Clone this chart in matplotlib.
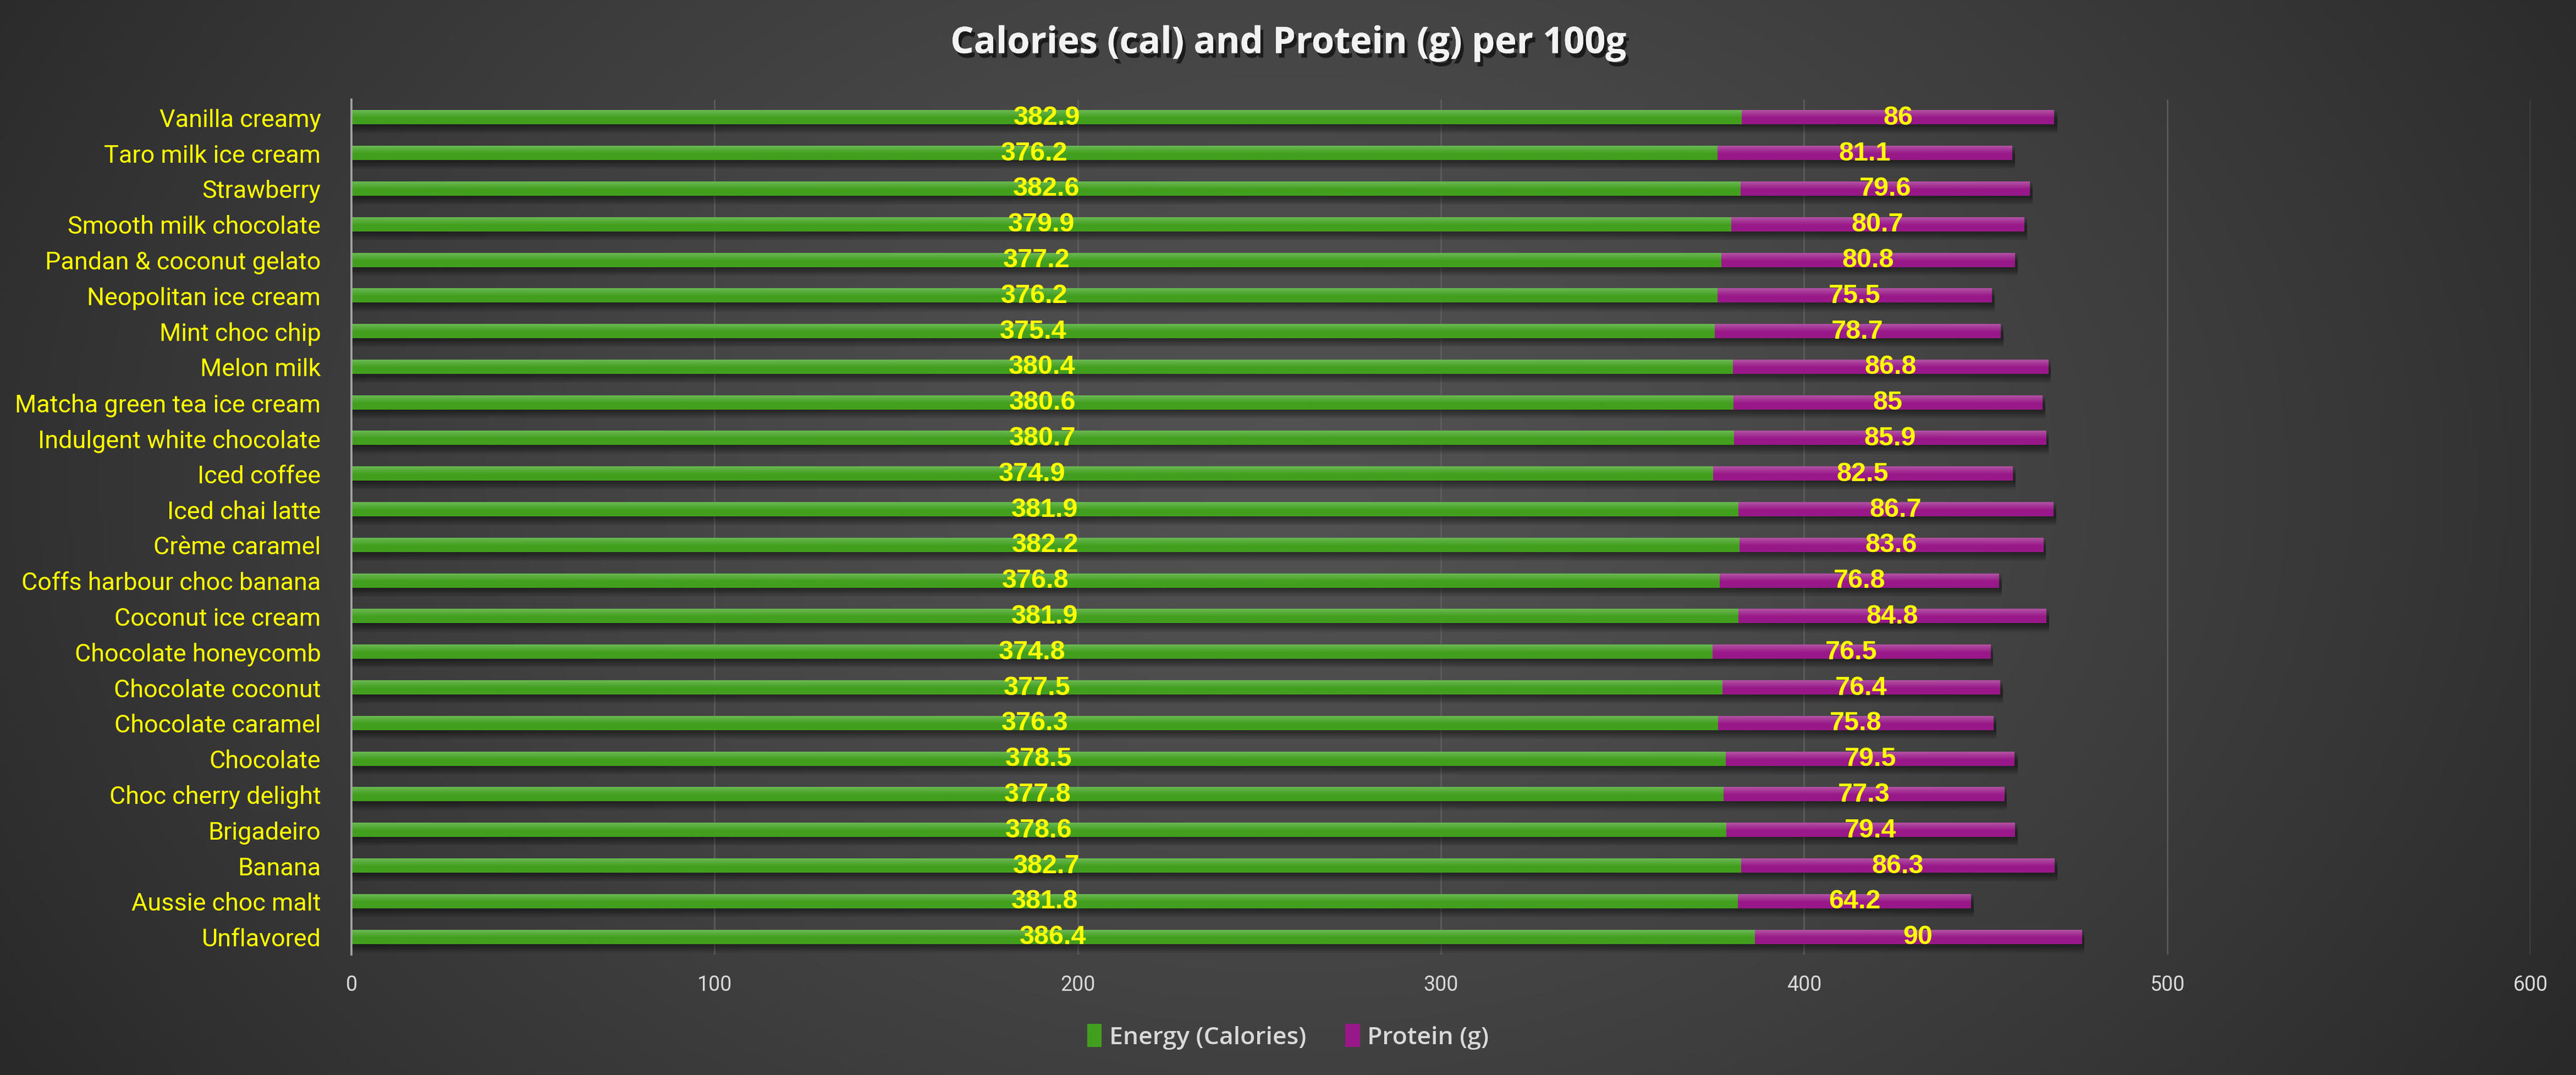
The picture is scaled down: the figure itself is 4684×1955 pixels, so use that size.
import numpy as np
import matplotlib
matplotlib.use("Agg")
import matplotlib.pyplot as plt
import matplotlib.patheffects as pe
from matplotlib.patches import Patch

categories = ["Vanilla creamy", "Taro milk ice cream", "Strawberry", "Smooth milk chocolate",
              "Pandan & coconut gelato", "Neopolitan ice cream", "Mint choc chip", "Melon milk",
              "Matcha green tea ice cream", "Indulgent white chocolate", "Iced coffee",
              "Iced chai latte", "Crème caramel", "Coffs harbour choc banana", "Coconut ice cream",
              "Chocolate honeycomb", "Chocolate coconut", "Chocolate caramel", "Chocolate",
              "Choc cherry delight", "Brigadeiro", "Banana", "Aussie choc malt", "Unflavored"]
energy = [382.9, 376.2, 382.6, 379.9, 377.2, 376.2, 375.4, 380.4, 380.6, 380.7, 374.9, 381.9,
          382.2, 376.8, 381.9, 374.8, 377.5, 376.3, 378.5, 377.8, 378.6, 382.7, 381.8, 386.4]
protein = [86, 81.1, 79.6, 80.7, 80.8, 75.5, 78.7, 86.8, 85, 85.9, 82.5, 86.7,
           83.6, 76.8, 84.8, 76.5, 76.4, 75.8, 79.5, 77.3, 79.4, 86.3, 64.2, 90]
xticks = [0, 100, 200, 300, 400, 500, 600]
title = "Calories (cal) and Protein (g) per 100g"
series_names = ["Energy (Calories)", "Protein (g)"]

W, H, DPI = 4684, 1956, 200
fig = plt.figure(figsize=(W / DPI, H / DPI), dpi=DPI)

# background radial gradient
bg = fig.add_axes([0, 0, 1, 1], zorder=-10)
yy, xx = np.mgrid[0:1:300j, 0:1:700j]
r = np.sqrt(((xx - 0.5) / 0.62) ** 2 + ((yy - 0.45) / 1.1) ** 2)
r = np.clip(r, 0, 1)
val = (0x52 - (0x52 - 0x26) * r ** 1.3) / 255.0
bg.imshow(np.dstack([val, val, val]), extent=(0, 1, 0, 1), aspect="auto", origin="upper")
bg.axis("off")

left, right = 639 / W, 4601 / W
top, bottom = 1 - 182 / H, 1 - 1737 / H
ax = fig.add_axes([left, bottom, right - left, top - bottom])
ax.set_facecolor("none")

y = np.arange(len(categories))
h = 0.4
e = np.array(energy)
p = np.array(protein)

# shadows
for k in range(7):
    off = 0.04 + 0.035 * k
    ax.barh(y + off, e + p + 0.8, height=h, left=0, color="black", alpha=0.075, zorder=1, linewidth=0)

green_top, green_bot = np.array([0x6a, 0xb8, 0x52]) / 255, np.array([0x42, 0x9f, 0x1e]) / 255
mag_top, mag_bot = np.array([0xb2, 0x52, 0xa3]) / 255, np.array([0x99, 0x18, 0x89]) / 255

b1 = ax.barh(y, e, height=h, color=green_bot, zorder=3, linewidth=0)
b2 = ax.barh(y, p, height=h, left=e, color=mag_bot, zorder=3, linewidth=0)

def grad(c_top, c_bot, n=32):
    t = np.linspace(0, 1, n)[:, None]
    t2 = np.clip(t / 0.55, 0, 1)
    g = c_top[None, :] * (1 - t2) + c_bot[None, :] * t2
    return g[:, None, :]

gg = grad(green_top, green_bot)
gm = grad(mag_top, mag_bot)
for bars, g in ((b1, gg), (b2, gm)):
    for bar in bars:
        x0, yb = bar.get_x(), bar.get_y()
        x1, yt = x0 + bar.get_width(), yb + bar.get_height()
        ax.imshow(g, extent=(x0, x1, yt, yb), origin="upper", aspect="auto", zorder=3.5,
                  interpolation="bilinear")

lab_font = ["Liberation Sans", "DejaVu Sans"]
ax.bar_label(b1, labels=[f"{v:g}" for v in energy], label_type="center", color="#ffff00",
             fontsize=17.5, fontweight="bold", family=lab_font, zorder=5)
ax.bar_label(b2, labels=[f"{v:g}" for v in protein], label_type="center", color="#ffff00",
             fontsize=17.5, fontweight="bold", family=lab_font, zorder=5)

ax.set_xlim(0, 600)
ax.set_ylim(len(categories) - 0.5, -0.5)
ax.set_xticks(xticks)
ax.set_xticklabels([str(t) for t in xticks])
ax.set_yticks(y)
ax.set_yticklabels(categories)

narrow = ["Liberation Sans Narrow", "Roboto", "DejaVu Sans"]
for t in ax.get_yticklabels():
    t.set_family(narrow)
    t.set_fontsize(16.2)
    t.set_color("#ffff00")
for t in ax.get_xticklabels():
    t.set_family(narrow)
    t.set_fontsize(13.5)
    t.set_color("#d9d9d9")
ax.tick_params(axis="y", length=0, pad=20)
ax.tick_params(axis="x", length=0, pad=13)

ax.grid(axis="x", color="#5e5e5e", linewidth=0.9, zorder=0)
ax.set_axisbelow(True)
for s in ["top", "right", "bottom"]:
    ax.spines[s].set_visible(False)
ax.spines["left"].set_color("#a6a6a6")
ax.spines["left"].set_linewidth(1.3)
ax.spines["left"].set_zorder(4)

fig.text(0.5, 1 - 80 / H, title, ha="center", va="center", color="#f2f2f2",
         fontsize=24, fontweight="bold", family=["Open Sans", "DejaVu Sans"],
         path_effects=[pe.withSimplePatchShadow(offset=(2, -3), shadow_rgbFace="black", alpha=0.6),
                       pe.Normal()])

handles = [Patch(facecolor=green_bot, edgecolor="none"), Patch(facecolor=mag_bot, edgecolor="none")]
leg = fig.legend(handles, series_names, loc="center", bbox_to_anchor=(0.5, 1 - 1886 / H),
                 ncol=2, frameon=False, handlelength=0.6, handleheight=1.1, handletextpad=0.3,
                 columnspacing=1.6, prop={"family": ["Open Sans", "DejaVu Sans"], "size": 16,
                                          "weight": "semibold"})
for t in leg.get_texts():
    t.set_color("#d9d9d9")

fig.savefig("out.png", dpi=DPI)
